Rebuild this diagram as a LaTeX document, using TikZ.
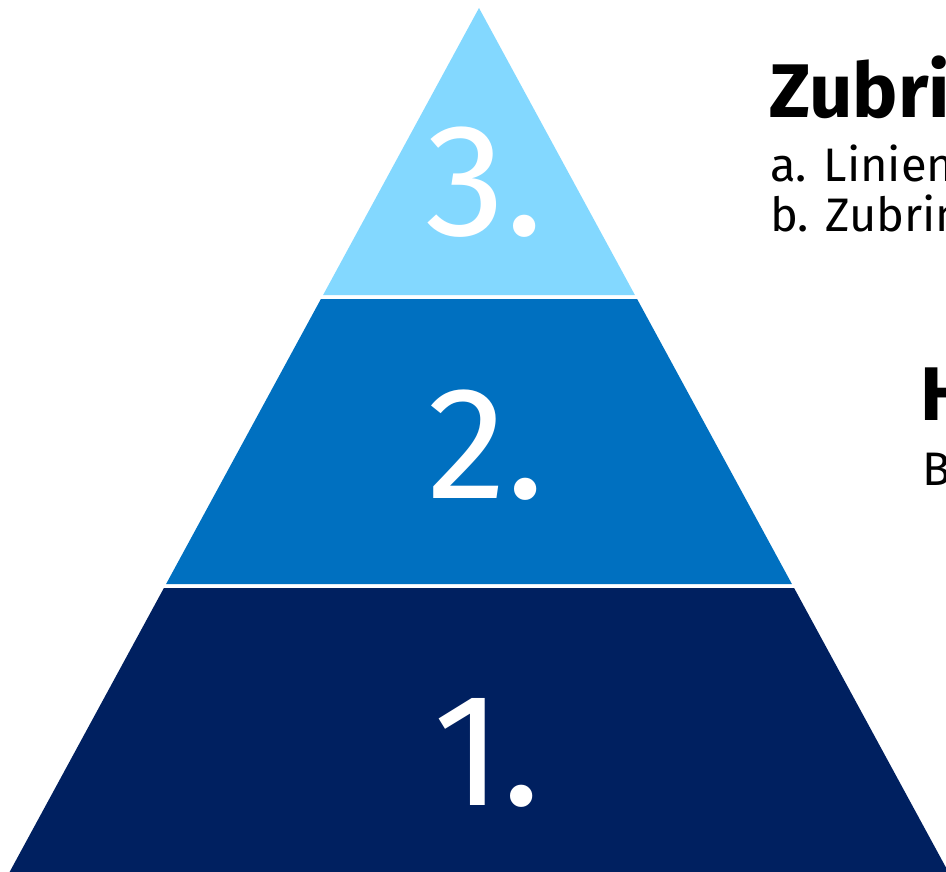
\documentclass[tikz,border=0pt]{standalone}
\usepackage{fontspec}
\setmainfont{Fira Sans}
\definecolor{lvlthree}{HTML}{83D8FF}
\definecolor{lvltwo}{HTML}{0070C0}
\definecolor{lvlone}{HTML}{002060}
\begin{document}
\begin{tikzpicture}[x=1pt,y=-1pt,
  num/.style={text=white,inner sep=0pt,anchor=base,font=\fontsize{160}{160}\selectfont},
  headtxt/.style={inner sep=0pt,anchor=base west,font=\fontsize{76}{76}\selectfont\bfseries},
  bodytxt/.style={inner sep=0pt,anchor=base west,font=\fontsize{47}{47}\selectfont}]
\useasboundingbox (0,0) rectangle (946,872);
\fill[lvlthree] (479,8) -- (634.9,295) -- (323.1,295) -- cycle;
\fill[lvltwo] (320.9,299) -- (637.1,299) -- (791.9,584) -- (166.1,584) -- cycle;
\fill[lvlone] (163.9,588) -- (794.1,588) -- (948.4,872) -- (9.6,872) -- cycle;
\node[num] (n3) at (485,236) {3.};
\node[num] (n2) at (486,498) {2.};
\node[num] (n1) at (487,805) {1.};
\node[headtxt] (h3) at (769,118) {Zubri};
\node[bodytxt] (a3) at (770,182) {a. Linien};
\node[bodytxt] (b3) at (770,232) {b. Zubrin};
\node[headtxt] (h2) at (920,420) {H};
\node[bodytxt] (b2) at (922,485) {B};
\end{tikzpicture}
\end{document}
